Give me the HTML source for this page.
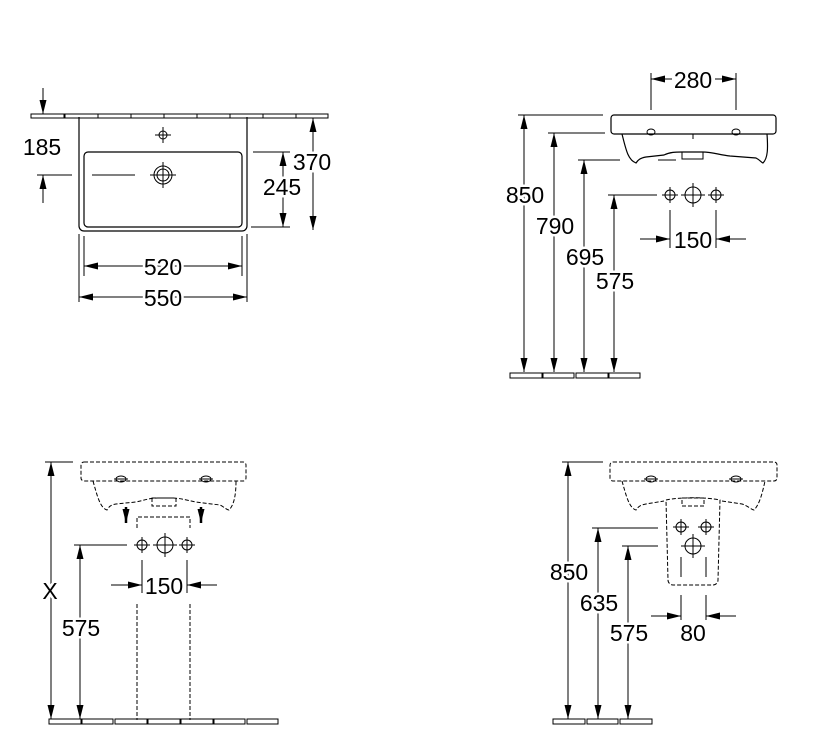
<!DOCTYPE html>
<html><head><meta charset="utf-8"><style>
html,body{margin:0;padding:0;background:#fff}
svg{display:block}
text{font-family:"Liberation Sans",Arial,sans-serif;font-size:23px;fill:#000;stroke:#fff;stroke-width:5px;paint-order:stroke;text-anchor:middle}
</style></head><body>
<svg width="815" height="751" viewBox="0 0 815 751" xmlns="http://www.w3.org/2000/svg">
<defs>
<marker id="a" viewBox="0 0 14 7" refX="14" refY="3.5" markerWidth="14" markerHeight="7" markerUnits="userSpaceOnUse" orient="auto-start-reverse"><path d="M0,0 L14,3.5 L0,7z" fill="#000"/></marker>
<marker id="b" viewBox="0 0 14 7" refX="14" refY="3.5" markerWidth="14" markerHeight="7" markerUnits="userSpaceOnUse" orient="auto"><path d="M0,0 L14,3.5 L0,7z" fill="#000"/></marker>
</defs>
<g fill="none" stroke="#000" stroke-width="1">
<path d="M31,114h33v4h-33z M65,114h33v4h-33z M98,114h33v4h-33z M131,114h33v4h-33z M164,114h33v4h-33z M197,114h33v4h-33z M230,114h33v4h-33z M263,114h33v4h-33z M296,114h32v4h-32z"/>
<path d="M79,117 V226 a5,5 0 0 0 5,5 H242 a5,5 0 0 0 5,-5 V117" stroke-width="1.2"/>
<rect x="84" y="152" width="158" height="75" rx="4" stroke-width="1.2"/>
<circle cx="163" cy="135" r="4"/><path d="M155,135h16 M163,127v16"/>
<circle cx="163" cy="175" r="9"/><circle cx="163" cy="175" r="6"/><path d="M150,175h26 M163,162v26"/>
<path d="M92,175h43"/>
<path d="M43,88V114" marker-end="url(#b)"/><path d="M43,203V175" marker-end="url(#b)"/><path d="M37,175h35"/>
<path d="M253,152h37 M251,227h39"/>
<path d="M283,152V227" marker-start="url(#a)" marker-end="url(#a)"/>
<path d="M313,118V230" marker-start="url(#a)" marker-end="url(#a)"/>
<path d="M84,236V276 M242,236V276 M79,234V302 M247,234V302"/>
<path d="M84,266H242" marker-start="url(#a)" marker-end="url(#a)"/>
<path d="M79,297H247" marker-start="url(#a)" marker-end="url(#a)"/>
<path d="M614,115H773 a3,3 0 0 1 3,3 V131 a3,3 0 0 1 -3,3 H614 a3,3 0 0 1 -3,-3 V118 a3,3 0 0 1 3,-3z" stroke-width="1.2"/>
<ellipse cx="651" cy="132" rx="4" ry="3"/><ellipse cx="736" cy="132" rx="4" ry="3"/>
<path d="M622,134 C626,150 628,160 636,163 C638,160 640,158 646,157 L664,155 C670,152 676,152 682,152 H703 C712,152 720,155 730,156 L756,158 C760,160 762,163 763,163 C768,158 768,148 767,134" stroke-width="1.2"/>
<rect x="682" y="152" width="21" height="7"/>
<path d="M693,134v5"/>
<path d="M651,73V110 M736,73V110"/>
<path d="M672,79H651" marker-end="url(#b)"/><path d="M715,79H736" marker-end="url(#b)"/>
<path d="M518,115H603 M548,133H605 M578,160H620 M658,160H676 M608,195H657"/>
<path d="M524,115V372" marker-start="url(#a)" marker-end="url(#a)"/>
<path d="M554,133V372" marker-start="url(#a)" marker-end="url(#a)"/>
<path d="M584,160V372" marker-start="url(#a)" marker-end="url(#a)"/>
<path d="M614,195V372" marker-start="url(#a)" marker-end="url(#a)"/>
<path d="M510,373h32v5h-32z M543,373h31v5h-31z M576,373h32v5h-32z M609,373h31v5h-31z"/>
<circle cx="670" cy="195" r="5"/><path d="M662,195h16 M670,187v16"/>
<circle cx="693" cy="195" r="8"/><path d="M681,195h24 M693,183v24"/>
<circle cx="716" cy="195" r="5"/><path d="M708,195h16 M716,187v16"/>
<path d="M670,210V248 M716,210V248"/>
<path d="M640,239H670" marker-end="url(#b)"/><path d="M746,239H716" marker-end="url(#b)"/>
<g stroke-dasharray="4,2">
<path d="M84,462H243 a3,3 0 0 1 3,3 V478 a3,3 0 0 1 -3,3 H84 a3,3 0 0 1 -3,-3 V465 a3,3 0 0 1 3,-3z"/>
<path d="M93,481 C97,495 100,508 107,510 C109,507 110,505 116,504 L136,502 C145,500 150,498 158,498 H171 C180,498 186,500 196,502 L220,505 C224,507 227,510 229,510 C234,505 236,495 236,481"/>
<rect x="152" y="498" width="24" height="8"/>
<path d="M137,528V517H190V528 M137,604V720 M190,604V720"/>
</g>
<ellipse cx="121" cy="479" rx="5" ry="3"/><path d="M114,479h14"/>
<ellipse cx="206" cy="479" rx="5" ry="3"/><path d="M199,479h14"/>
<path d="M126,507V523" stroke-width="2.5" marker-end="url(#b)"/>
<path d="M201,507V523" stroke-width="2.5" marker-end="url(#b)"/>
<circle cx="142" cy="545" r="5"/><path d="M134,545h16 M142,537v16"/>
<circle cx="165" cy="545" r="8"/><path d="M153,545h24 M165,533v24"/>
<circle cx="187" cy="545" r="5"/><path d="M179,545h16 M187,537v16"/>
<path d="M142,560V593 M187,560V593"/>
<path d="M111,585H142" marker-end="url(#b)"/><path d="M217,585H187" marker-end="url(#b)"/>
<path d="M45,462H73 M74,545H127"/>
<path d="M51,462V719" marker-start="url(#a)" marker-end="url(#a)"/>
<path d="M80,545V719" marker-start="url(#a)" marker-end="url(#a)"/>
<path d="M49,719h32v5h-32z M82,719h31v5h-31z M115,719h32v5h-32z M148,719h32v5h-32z M181,719h32v5h-32z M214,719h31v5h-31z M247,719h31v5h-31z"/>
<g stroke-dasharray="4,2">
<path d="M613,462H774 a3,3 0 0 1 3,3 V478 a3,3 0 0 1 -3,3 H613 a3,3 0 0 1 -3,-3 V465 a3,3 0 0 1 3,-3z"/>
<path d="M622,481 C626,495 629,508 636,510 C638,507 640,505 646,504 L664,501 M722,501 L742,504 C748,506 752,510 754,510 C759,505 762,495 765,481"/>
<path d="M666,500 C680,497 706,497 720,500 L718,580 a5,5 0 0 1 -5,5 H673 a5,5 0 0 1 -5,-5z"/>
<rect x="682" y="498" width="22" height="8"/>
</g>
<ellipse cx="651" cy="479" rx="5" ry="3"/><path d="M644,479h14"/>
<ellipse cx="736" cy="479" rx="5" ry="3"/><path d="M729,479h14"/>
<circle cx="681" cy="527" r="5"/><path d="M673,527h16 M681,519v16"/>
<circle cx="706" cy="527" r="5"/><path d="M698,527h16 M706,519v16"/>
<circle cx="693" cy="546" r="8"/><path d="M681,546h24 M693,534v24"/>
<path d="M681,557V577 M706,557V577 M681,595V620 M706,595V620"/>
<path d="M651,616H681" marker-end="url(#b)"/><path d="M736,616H706" marker-end="url(#b)"/>
<path d="M562,462H603 M592,528H658 M622,546H658"/>
<path d="M568,462V719" marker-start="url(#a)" marker-end="url(#a)"/>
<path d="M598,528V719" marker-start="url(#a)" marker-end="url(#a)"/>
<path d="M628,546V719" marker-start="url(#a)" marker-end="url(#a)"/>
<path d="M553,719h32v5h-32z M587,719h31v5h-31z M620,719h32v5h-32z"/>
</g>
<text x="42" y="155">185</text>
<text x="282" y="195">245</text>
<text x="312" y="170">370</text>
<text x="163" y="275">520</text>
<text x="163" y="306">550</text>
<text x="693" y="88">280</text>
<text x="525" y="203">850</text>
<text x="555" y="234">790</text>
<text x="585" y="265">695</text>
<text x="615" y="289">575</text>
<text x="693" y="248">150</text>
<text x="50" y="599">X</text>
<text x="81" y="636">575</text>
<text x="164" y="594">150</text>
<text x="569" y="580">850</text>
<text x="599" y="611">635</text>
<text x="629" y="641">575</text>
<text x="693" y="641">80</text>
</svg>
</body></html>
